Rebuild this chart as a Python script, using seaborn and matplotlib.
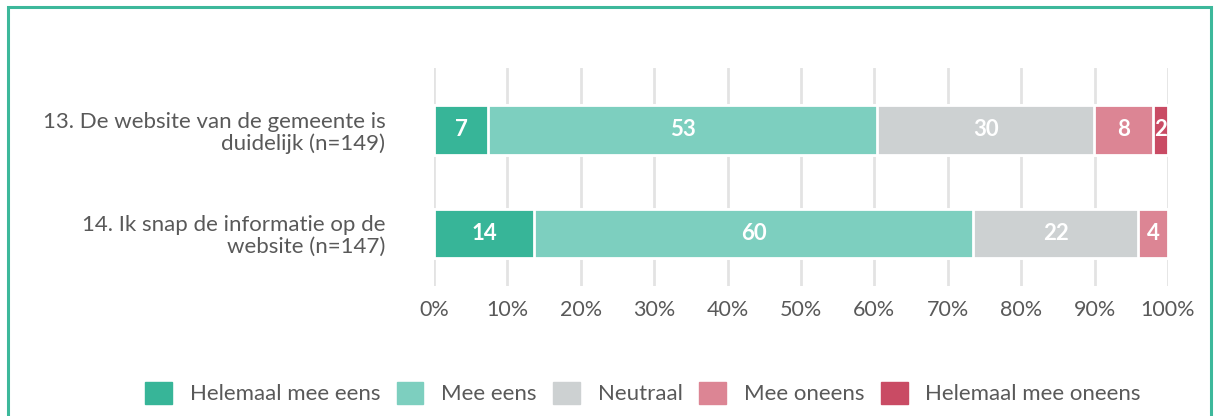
import pandas as pd
import matplotlib.pyplot as plt
import matplotlib.patches as mpatches
import seaborn as sns
import numpy as np

# data
questions = ["13. De website van de gemeente is\nduidelijk (n=149)",
             "14. Ik snap de informatie op de\nwebsite (n=147)"]
categories = ["Helemaal mee eens", "Mee eens", "Neutraal", "Mee oneens", "Helemaal mee oneens"]
helemaal_eens = [7.4, 13.6]
mee_eens = [53.0, 59.9]
neutraal = [29.5, 22.4]
mee_oneens = [8.1, 4.1]
helemaal_oneens = [2.0, 0.0]
labels_shown = [[7, 53, 30, 8, 2], [14, 60, 22, 4, None]]

COLORS = ["#37B598", "#7DCFBF", "#CDD1D2", "#DC8594", "#C94B64"]
TEXT = "#595959"
FRAME = "#3DB89B"

df = pd.DataFrame({"question": questions,
                   categories[0]: helemaal_eens,
                   categories[1]: mee_eens,
                   categories[2]: neutraal,
                   categories[3]: mee_oneens,
                   categories[4]: helemaal_oneens})
cum = df[categories].cumsum(axis=1)

sns.set_theme(style="white")
plt.rcParams["font.family"] = ["Lato", "DejaVu Sans"]

fig = plt.figure(figsize=(12.14, 4.16), dpi=100)
ax = fig.add_axes([434 / 1214, 1 - 286 / 416, 734 / 1214, 218 / 416])

# stacked bars: draw cumulative totals from the back to the front
for cat, col in reversed(list(zip(categories, COLORS))):
    sns.barplot(x=cum[cat], y=df["question"], color=col, orient="h", saturation=1,
                width=0.48, edgecolor="white", linewidth=2, ax=ax, zorder=3)

# segment labels
for i in range(len(questions)):
    left = 0
    for j, cat in enumerate(categories):
        w = df.loc[i, cat]
        lab = labels_shown[i][j]
        if lab is not None and w > 0:
            ax.text(left + w / 2, i, str(lab), ha="center", va="center",
                    color="white", fontsize=16, fontweight="bold", zorder=5)
        left += w

ax.set_xlim(0, 100)
ax.set_ylim(1.51, -0.6)
ax.set_xticks(np.arange(0, 101, 10))
ax.set_xticklabels([f"{v}%" for v in range(0, 101, 10)])
ax.xaxis.grid(True, color="#E3E3E3", linewidth=2, zorder=0)
ax.set_axisbelow(True)
ax.set_xlabel("")
ax.set_ylabel("")
for s in ax.spines.values():
    s.set_visible(False)
ax.tick_params(axis="x", length=0, pad=10, labelsize=15.5, labelcolor=TEXT)
ax.tick_params(axis="y", length=0, pad=35, labelsize=16, labelcolor=TEXT)
for t in ax.get_yticklabels():
    t.set_linespacing(1.1)

handles = [mpatches.Patch(color=c, label=l) for c, l in zip(COLORS, categories)]
fig.legend(handles=handles, loc="center", bbox_to_anchor=(643 / 1214, 1 - 393 / 416),
           ncol=5, frameon=False, fontsize=16, labelcolor=TEXT,
           handlelength=1.2, handleheight=1.2, handletextpad=0.8,
           columnspacing=0.75)

# green frame around the card
frame = mpatches.Rectangle((7.5 / 1214, -0.1), 1203 / 1214, 1.1 - 6.5 / 416,
                           transform=fig.transFigure, fill=False,
                           edgecolor=FRAME, linewidth=2.2, clip_on=False)
fig.patches.append(frame)

fig.savefig("out.png", dpi=100, facecolor="white")
